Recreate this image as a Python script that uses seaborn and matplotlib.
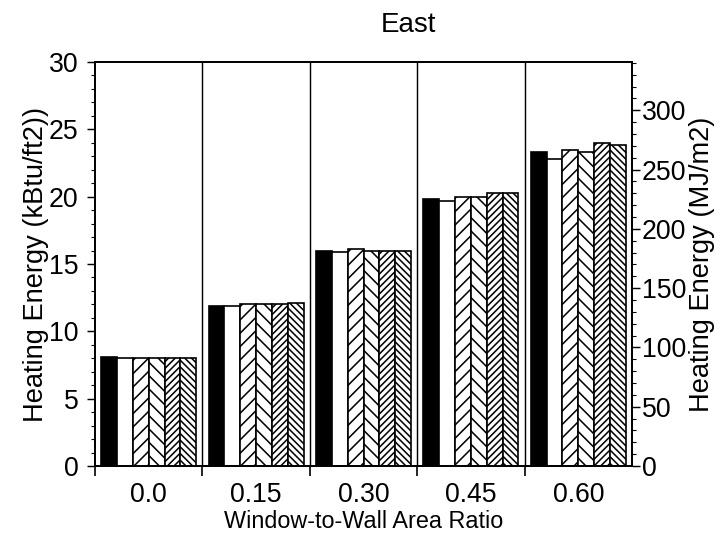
import matplotlib
matplotlib.use("Agg")
import matplotlib.pyplot as plt
import seaborn as sns
import pandas as pd
import numpy as np
from matplotlib.ticker import MultipleLocator, FixedLocator

# ---- data ----
wwr = ["0.0", "0.15", "0.30", "0.45", "0.60"]
series_names = ["Case 1", "Case 2", "Case 3", "Case 4", "Case 5", "Case 6"]
case1 = [8.1, 11.9, 16.0, 19.8, 23.3]
case2 = [8.0, 11.9, 15.9, 19.7, 22.8]
case3 = [8.0, 12.0, 16.1, 20.0, 23.5]
case4 = [8.0, 12.0, 16.0, 20.0, 23.3]
case5 = [8.0, 12.0, 16.0, 20.3, 23.95]
case6 = [8.0, 12.1, 16.0, 20.3, 23.8]
kbtu_to_mj = 11.357

series_vals = [case1, case2, case3, case4, case5, case6]
df = pd.DataFrame(
    [(w, n, v) for n, vals in zip(series_names, series_vals) for w, v in zip(wwr, vals)],
    columns=["wwr", "case", "energy"],
)

sns.set_style("ticks")
plt.rcParams["font.family"] = ["Liberation Sans", "DejaVu Sans"]
plt.rcParams["hatch.linewidth"] = 1.4
plt.rcParams["hatch.color"] = "black"
for k in ["text.color", "axes.labelcolor", "xtick.color", "ytick.color", "axes.edgecolor"]:
    plt.rcParams[k] = "black"

DPI = 80
fig = plt.figure(figsize=(722 / DPI, 535 / DPI), dpi=DPI)
ax = fig.add_axes([95 / 722, 1 - 466 / 535, (632 - 95) / 722, (466 - 62) / 535])

colors = ["black", "white", "white", "white", "white", "white"]
sns.barplot(
    data=df, x="wwr", y="energy", hue="case", order=wwr, hue_order=series_names,
    palette=colors, saturation=1, width=0.885, edgecolor="black", linewidth=1.5,
    legend=False, ax=ax, errorbar=None,
)

hatches = [None, None, "//", "\\\\", "////", "\\\\\\\\"]
for cont, h in zip(ax.containers, hatches):
    for bar in cont:
        if h:
            bar.set_hatch(h)

ax.set_xlim(-0.5, 4.5)
ax.set_ylim(0, 30)

# separators
for xb in [0.5, 1.5, 2.5, 3.5]:
    ax.axvline(xb, color="black", lw=1.3, zorder=3)

# x ticks: boundaries as marks, labels at centers
ax.xaxis.set_major_locator(FixedLocator([-0.5, 0.5, 1.5, 2.5, 3.5]))
ax.set_xticklabels([])
ax.set_xticks(np.arange(len(wwr)), labels=wwr, minor=True)
ax.tick_params(axis="x", which="major", length=9, width=1.5, direction="out")
ax.tick_params(axis="x", which="minor", length=0, labelsize=24, pad=14)

ax.yaxis.set_major_locator(MultipleLocator(5))
ax.yaxis.set_minor_locator(MultipleLocator(1))
ax.tick_params(axis="y", which="major", length=7, width=1.3, labelsize=24, pad=8)
ax.tick_params(axis="y", which="minor", length=4, width=1.0)

ax.set_xlabel("Window-to-Wall Area Ratio", fontsize=21, labelpad=2)
ax.set_ylabel("Heating Energy (kBtu/ft2))", fontsize=24.5, labelpad=0)
ax.set_title("East", fontsize=25, pad=27, x=0.583)

for sp in ax.spines.values():
    sp.set_linewidth(1.6)
    sp.set_color("black")
    sp.set_visible(True)

ax2 = ax.twinx()
ax2.set_ylim(0, 30 * kbtu_to_mj)
ax2.yaxis.set_major_locator(MultipleLocator(50))
ax2.yaxis.set_minor_locator(MultipleLocator(10))
ax2.tick_params(axis="y", which="major", length=7, width=1.3, labelsize=24, pad=2)
ax2.tick_params(axis="y", which="minor", length=4, width=1.0)
ax2.set_ylabel("Heating Energy (MJ/m2)", fontsize=24.5, labelpad=2)
for sp in ax2.spines.values():
    sp.set_linewidth(1.6)

fig.savefig("out.png", dpi=DPI)
